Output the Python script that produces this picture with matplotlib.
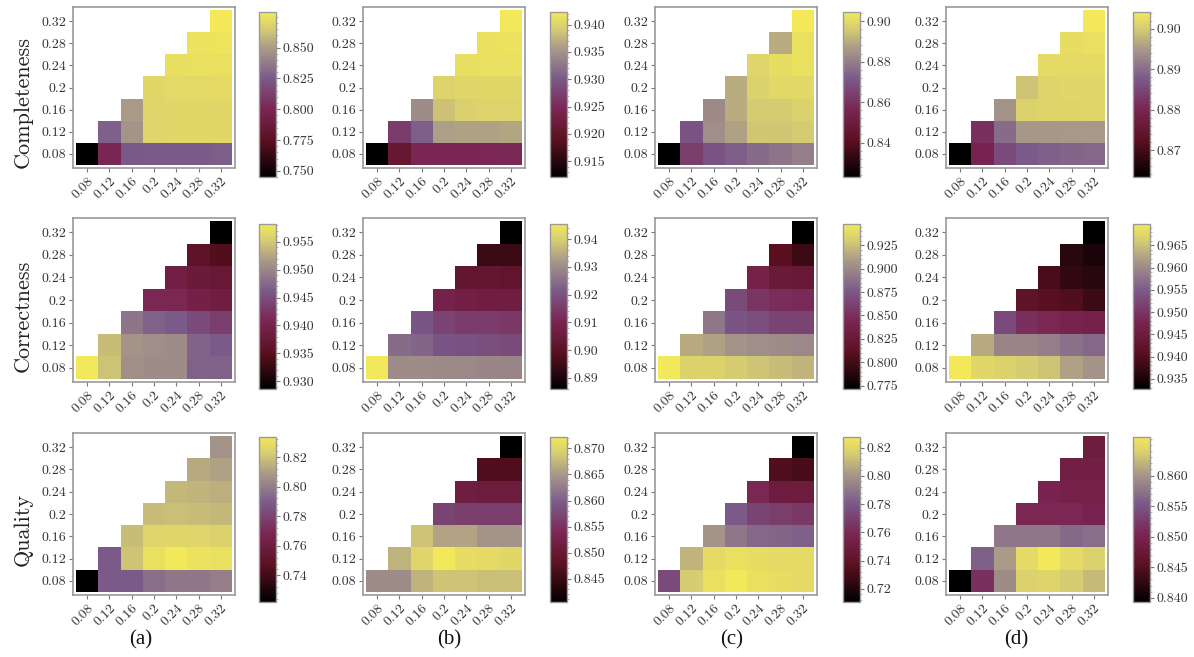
import numpy as np
import matplotlib
matplotlib.use("Agg")
import matplotlib.pyplot as plt
from matplotlib.colors import LinearSegmentedColormap
from matplotlib.ticker import FixedLocator, AutoMinorLocator, FormatStrFormatter

plt.rcParams['font.family'] = ['cmr10', 'DejaVu Serif']
plt.rcParams['axes.formatter.use_mathtext'] = True

params = ["0.08", "0.12", "0.16", "0.2", "0.24", "0.28", "0.32"]
metrics = ["Completeness", "Correctness", "Quality"]
panel_labels = ["(a)", "(b)", "(c)", "(d)"]
N = np.nan

# rows: y = 0.08 ... 0.32 (bottom to top); columns: x = 0.08 ... 0.32
comp_a = [[0.745, 0.801, 0.825, 0.826, 0.826, 0.826, 0.827],
          [N, 0.828, 0.847, 0.870, 0.871, 0.871, 0.871],
          [N, N, 0.850, 0.870, 0.871, 0.871, 0.871],
          [N, N, N, 0.871, 0.872, 0.872, 0.873],
          [N, N, N, N, 0.874, 0.875, 0.875],
          [N, N, N, N, N, 0.876, 0.877],
          [N, N, N, N, N, N, 0.879]]
comp_b = [[0.9121, 0.9210, 0.9245, 0.9247, 0.9247, 0.9248, 0.9250],
          [N, 0.9270, 0.9306, 0.9360, 0.9362, 0.9362, 0.9365],
          [N, N, 0.9345, 0.9385, 0.9398, 0.9400, 0.9400],
          [N, N, N, 0.9400, 0.9403, 0.9405, 0.9405],
          [N, N, N, N, 0.9412, 0.9413, 0.9413],
          [N, N, N, N, N, 0.9415, 0.9416],
          [N, N, N, N, N, N, 0.9423]]
comp_c = [[0.823, 0.864, 0.870, 0.873, 0.876, 0.878, 0.880],
          [N, 0.870, 0.884, 0.888, 0.895, 0.895, 0.896],
          [N, N, 0.883, 0.890, 0.896, 0.896, 0.898],
          [N, N, N, 0.890, 0.898, 0.900, 0.900],
          [N, N, N, N, 0.899, 0.901, 0.902],
          [N, N, N, N, N, 0.890, 0.902],
          [N, N, N, N, N, N, 0.9045]]
comp_d = [[0.8633, 0.8797, 0.8858, 0.8878, 0.8887, 0.8891, 0.8895],
          [N, 0.8817, 0.8899, 0.8948, 0.8948, 0.8950, 0.8950],
          [N, N, 0.8944, 0.9010, 0.9012, 0.9013, 0.9014],
          [N, N, N, 0.8993, 0.9013, 0.9015, 0.9016],
          [N, N, N, N, 0.9022, 0.9022, 0.9024],
          [N, N, N, N, N, 0.9026, 0.9028],
          [N, N, N, N, N, N, 0.9042]]

corr_a = [[0.9582, 0.9546, 0.9508, 0.9505, 0.9505, 0.9470, 0.9470],
          [N, 0.9541, 0.9511, 0.9508, 0.9505, 0.9472, 0.9464],
          [N, N, 0.9487, 0.9470, 0.9464, 0.9449, 0.9434],
          [N, N, N, 0.9410, 0.9410, 0.9398, 0.9390],
          [N, N, N, N, 0.9393, 0.9381, 0.9375],
          [N, N, N, N, N, 0.9360, 0.9345],
          [N, N, N, N, N, N, 0.9286]]
corr_b = [[0.9454, 0.9300, 0.9300, 0.9295, 0.9292, 0.9290, 0.9288],
          [N, 0.9246, 0.9234, 0.9205, 0.9199, 0.9193, 0.9187],
          [N, N, 0.9205, 0.9169, 0.9157, 0.9157, 0.9145],
          [N, N, N, 0.9086, 0.9074, 0.9068, 0.9068],
          [N, N, N, N, 0.9026, 0.9026, 0.9020],
          [N, N, N, N, N, 0.8950, 0.8950],
          [N, N, N, N, N, N, 0.8860]]
corr_c = [[0.9478, 0.9337, 0.9337, 0.9302, 0.9266, 0.9231, 0.9196],
          [N, 0.9160, 0.9125, 0.9055, 0.9037, 0.9019, 0.9002],
          [N, N, 0.8914, 0.8737, 0.8702, 0.8631, 0.8631],
          [N, N, N, 0.8684, 0.8543, 0.8490, 0.8473],
          [N, N, N, N, 0.8384, 0.8278, 0.8243],
          [N, N, N, N, N, 0.8102, 0.7979],
          [N, N, N, N, N, N, 0.7714]]
corr_d = [[0.9698, 0.9676, 0.9668, 0.9661, 0.9653, 0.9624, 0.9609],
          [N, 0.9631, 0.9594, 0.9594, 0.9587, 0.9572, 0.9564],
          [N, N, 0.9531, 0.9494, 0.9483, 0.9475, 0.9468],
          [N, N, N, 0.9420, 0.9409, 0.9401, 0.9383],
          [N, N, N, N, 0.9394, 0.9372, 0.9364],
          [N, N, N, N, N, 0.9364, 0.9353],
          [N, N, N, N, N, N, 0.9327]]

qual_a = [[0.722, 0.789, 0.789, 0.7956, 0.7978, 0.7978, 0.8000],
          [N, 0.789, 0.8201, 0.8302, 0.8335, 0.8313, 0.8302],
          [N, N, 0.8179, 0.8257, 0.8268, 0.8257, 0.8246],
          [N, N, N, 0.8179, 0.8190, 0.8179, 0.8168],
          [N, N, N, N, 0.8168, 0.8157, 0.8145],
          [N, N, N, N, N, 0.8134, 0.8112],
          [N, N, N, N, N, N, 0.8067]]
qual_b = [[0.8640, 0.8640, 0.8671, 0.8684, 0.8684, 0.8681, 0.8681],
          [N, 0.8671, 0.8700, 0.8722, 0.8709, 0.8706, 0.8703],
          [N, N, 0.8684, 0.8659, 0.8659, 0.8646, 0.8646],
          [N, N, N, 0.8570, 0.8564, 0.8564, 0.8564],
          [N, N, N, N, 0.8516, 0.8510, 0.8510],
          [N, N, N, N, N, 0.8468, 0.8468],
          [N, N, N, N, N, N, 0.8405]]
qual_c = [[0.7749, 0.8158, 0.8240, 0.8275, 0.8240, 0.8228, 0.8217],
          [N, 0.8088, 0.8217, 0.8240, 0.8228, 0.8217, 0.8217],
          [N, N, 0.7994, 0.7901, 0.7854, 0.7842, 0.7831],
          [N, N, N, 0.7807, 0.7714, 0.7691, 0.7667],
          [N, N, N, N, 0.7597, 0.7503, 0.7503],
          [N, N, N, N, N, 0.7340, 0.7316],
          [N, N, N, N, N, N, 0.7106]]
qual_d = [[0.8393, 0.8515, 0.8593, 0.8641, 0.8644, 0.8636, 0.8625],
          [N, 0.8560, 0.8604, 0.8650, 0.8663, 0.8650, 0.8641],
          [N, N, 0.8577, 0.8577, 0.8577, 0.8566, 0.8571],
          [N, N, N, 0.8506, 0.8506, 0.8506, 0.8501],
          [N, N, N, N, 0.8501, 0.8496, 0.8496],
          [N, N, N, N, N, 0.8490, 0.8490],
          [N, N, N, N, N, N, 0.8482]]

grids = [[comp_a, comp_b, comp_c, comp_d],
         [corr_a, corr_b, corr_c, corr_d],
         [qual_a, qual_b, qual_c, qual_d]]

cbar_ticks = [
    [[0.750, 0.775, 0.800, 0.825, 0.850], [0.915, 0.920, 0.925, 0.930, 0.935, 0.940],
     [0.84, 0.86, 0.88, 0.90], [0.87, 0.88, 0.89, 0.90]],
    [[0.930, 0.935, 0.940, 0.945, 0.950, 0.955], [0.89, 0.90, 0.91, 0.92, 0.93, 0.94],
     [0.775, 0.800, 0.825, 0.850, 0.875, 0.900, 0.925], [0.935, 0.940, 0.945, 0.950, 0.955, 0.960, 0.965]],
    [[0.74, 0.76, 0.78, 0.80, 0.82], [0.845, 0.850, 0.855, 0.860, 0.865, 0.870],
     [0.72, 0.74, 0.76, 0.78, 0.80, 0.82], [0.840, 0.845, 0.850, 0.855, 0.860]],
]
cbar_fmt = [["%.3f", "%.3f", "%.2f", "%.2f"],
            ["%.3f", "%.2f", "%.3f", "%.3f"],
            ["%.2f", "%.3f", "%.2f", "%.3f"]]

cmap = LinearSegmentedColormap.from_list("bkpy", [
    (0.00, "#000000"),
    (0.22, "#5a1020"),
    (0.41, "#7a2552"),
    (0.60, "#7b5a8a"),
    (0.78, "#a89a88"),
    (0.90, "#d6cc72"),
    (1.00, "#f2e85a"),
])

W, H = 1194, 657
fig = plt.figure(figsize=(W / 100, H / 100), dpi=100)

heat_left = [73, 363, 655, 946]
heat_w = 162
row_top = [7, 218, 433]
row_bot = [168, 382, 595]
cbar_left = [259, 550, 843, 1133]
cbar_w = 17
cbar_top = [12, 224, 437]
cbar_bot = [177, 389, 602]
row_label_y = [102, 316, 529]
panel_label_x = [141, 449, 732, 1016]

spine_c = "#9a9a9a"
text_c = "#333333"
pad = 0.14

for r in range(3):
    for c in range(4):
        data = np.ma.masked_invalid(np.array(grids[r][c], dtype=float))
        ax = fig.add_axes([heat_left[c] / W, 1 - row_bot[r] / H,
                           heat_w / W, (row_bot[r] - row_top[r]) / H])
        im = ax.imshow(data, cmap=cmap, origin="lower", aspect="auto",
                       extent=(-0.5, 6.5, -0.5, 6.5), interpolation="nearest")
        ax.set_xlim(-0.5 - pad, 6.5 + pad)
        ax.set_ylim(-0.5 - pad, 6.5 + pad)
        ax.set_xticks(range(7))
        ax.set_yticks(range(7))
        ax.set_xticklabels(params, rotation=45, ha="right", va="top",
                           rotation_mode="anchor", fontsize=10, color=text_c)
        ax.set_yticklabels(params, fontsize=10, color=text_c)
        ax.tick_params(length=3, width=0.8, color="#777777", pad=2)
        for s in ax.spines.values():
            s.set_color(spine_c)
            s.set_linewidth(1.2)

        cax = fig.add_axes([cbar_left[c] / W, 1 - cbar_bot[r] / H,
                            cbar_w / W, (cbar_bot[r] - cbar_top[r]) / H])
        cb = fig.colorbar(im, cax=cax)
        cb.outline.set_edgecolor(spine_c)
        cb.outline.set_linewidth(1.0)
        cax.yaxis.set_major_locator(FixedLocator(cbar_ticks[r][c]))
        cax.yaxis.set_major_formatter(FormatStrFormatter(cbar_fmt[r][c]))
        cax.yaxis.set_minor_locator(AutoMinorLocator(5))
        cax.tick_params(which="major", length=3, width=0.8, color="#777777",
                        labelsize=10, labelcolor=text_c, pad=2)
        cax.tick_params(which="minor", length=1.6, width=0.5, color="#999999")

    fig.text(23 / W, 1 - row_label_y[r] / H, metrics[r], rotation=90,
             fontsize=16, ha="center", va="center", color="#222222")

for c in range(4):
    fig.text(panel_label_x[c] / W, 1 - 640 / H, panel_labels[c],
             family="Liberation Serif", fontsize=15, ha="center", va="center",
             color="#111111")

fig.savefig("out.png", dpi=100)
